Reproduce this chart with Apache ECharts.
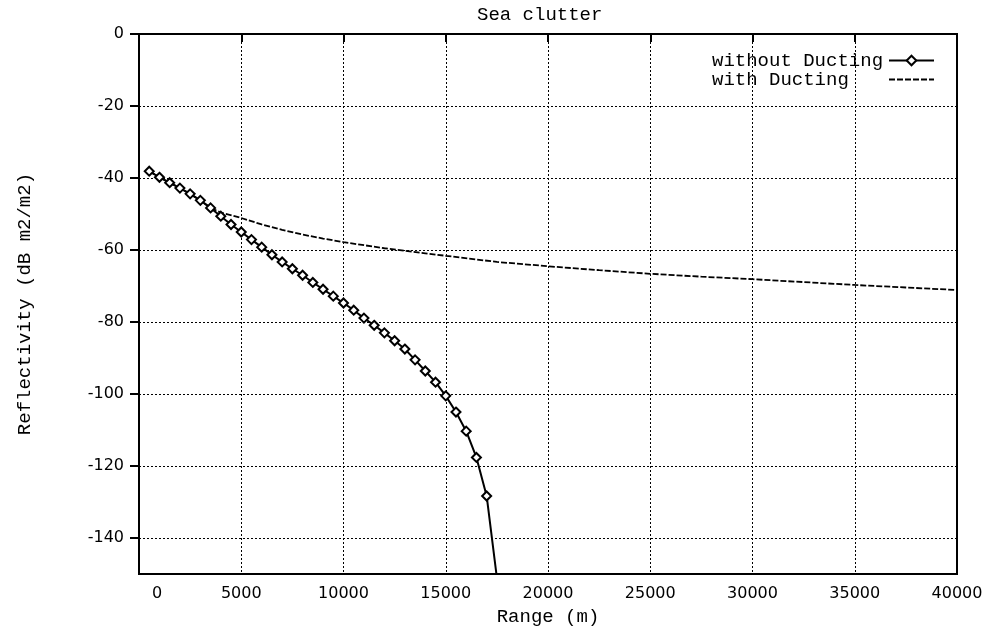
<!DOCTYPE html>
<html>
<head>
<meta charset="utf-8">
<script src="https://cdn.jsdelivr.net/npm/echarts@6/dist/echarts.min.js"></script>
<style>
html,body{margin:0;padding:0;background:#fff;}
#chart{width:987px;height:631px;}
</style>
</head>
<body>
<div id="chart"></div>
<script>
// ---- data ----
const titleText = 'Sea clutter';
const xName = 'Range (m)';
const yName = 'Reflectivity (dB m2/m2)';
const seriesNames = ['without Ducting', 'with Ducting'];

const rangeNoDuct = [500, 1000, 1500, 2000, 2500, 3000, 3500, 4000, 4500, 5000,
  5500, 6000, 6500, 7000, 7500, 8000, 8500, 9000, 9500, 10000,
  10500, 11000, 11500, 12000, 12500, 13000, 13500, 14000, 14500, 15000,
  15500, 16000, 16500, 17000, 17500];
const reflNoDuct = [-38.1, -39.8, -41.3, -42.8, -44.4, -46.2, -48.3, -50.6, -52.9, -55.0,
  -57.1, -59.2, -61.3, -63.3, -65.2, -67.0, -69.0, -70.9, -72.8, -74.7,
  -76.7, -78.9, -80.9, -83.0, -85.2, -87.5, -90.5, -93.6, -96.7, -100.5,
  -105.0, -110.3, -117.6, -128.3, -151.0];

const rangeDuct = [500, 1000, 1500, 2000, 2500, 3000, 3500, 4000, 5000, 6000,
  7000, 8000, 9000, 10000, 12000, 14000, 15000, 17500, 20000, 22500,
  25000, 27500, 30000, 32500, 35000, 37500, 40000];
const reflDuct = [-38.1, -39.8, -41.3, -42.8, -44.4, -46.2, -48.3, -49.6, -51.1, -52.9,
  -54.4, -55.7, -56.8, -57.8, -59.5, -60.9, -61.6, -63.3, -64.5, -65.6,
  -66.6, -67.4, -68.1, -68.9, -69.7, -70.4, -71.1];

const xMin = 0, xMax = 40000, xStep = 5000;
const yMin = -150, yMax = 0;
const yTicks = [-140, -120, -100, -80, -60, -40, -20, 0];

// ---- chart ----
const mono = 'Liberation Mono';
const sans = 'DejaVu Sans';

const noDuctData = rangeNoDuct.map((x, i) => {
  const v = [x, reflNoDuct[i]];
  return (reflNoDuct[i] < yMin) ? { value: v, symbol: 'none' } : v;
});
const ductData = rangeDuct.map((x, i) => [x, reflDuct[i]]);

const chart = echarts.init(document.getElementById('chart'), null, { renderer: 'canvas' });
chart.setOption({
  animation: false,
  backgroundColor: '#fff',
  title: {
    text: titleText,
    left: 477, top: 5, padding: 0,
    textStyle: { fontFamily: mono, fontSize: 19, fontWeight: 'normal', color: '#000' }
  },
  legend: {
    orient: 'vertical',
    right: 52, top: 51, padding: 0,
    align: 'right',
    itemWidth: 45, itemHeight: 12, itemGap: 0,
    data: [
      { name: seriesNames[0] },
      { name: seriesNames[1], itemStyle: { opacity: 0 } }
    ],
    formatter: name => '{t|' + name + '}',
    textStyle: {
      fontFamily: mono, fontSize: 19, color: '#000',
      rich: { t: { width: 172, align: 'left', fontFamily: mono, fontSize: 19, color: '#000', lineHeight: 16 } }
    }
  },
  grid: {
    left: 139, right: 30, top: 34, bottom: 48,
    show: true, borderColor: '#000', borderWidth: 2
  },
  xAxis: {
    type: 'value', min: xMin, max: xMax, interval: xStep,
    name: xName, nameLocation: 'middle', nameGap: 28,
    nameTextStyle: { fontFamily: mono, fontSize: 19, color: '#000' },
    axisLine: { show: true, lineStyle: { color: '#000', width: 2 } },
    axisTick: { show: true, length: 8, lineStyle: { color: '#000', width: 2 } },
    axisLabel: {
      margin: 12, fontFamily: sans, fontSize: 16, color: '#000',
      formatter: v => v === 0 ? '{z|0}' : String(v),
      rich: { z: { padding: [0, 0, 0, 36], fontFamily: sans, fontSize: 16, color: '#000' } }
    },
    splitLine: { show: true, lineStyle: { color: '#000', width: 1, type: [2, 2] } }
  },
  yAxis: {
    type: 'value', min: yMin, max: yMax,
    name: yName, nameLocation: 'middle', nameGap: 105, nameRotate: 90,
    nameTextStyle: { fontFamily: mono, fontSize: 19, color: '#000' },
    axisLine: { show: true, onZero: false, lineStyle: { color: '#000', width: 2 } },
    axisTick: { show: true, length: 9, customValues: yTicks, lineStyle: { color: '#000', width: 2 } },
    axisLabel: { margin: 15, fontFamily: sans, fontSize: 16, color: '#000', customValues: yTicks },
    splitLine: { show: true, lineStyle: { color: '#000', width: 1, type: [2, 2] } }
  },
  series: [
    {
      name: seriesNames[0], type: 'line', data: noDuctData, z: 3,
      symbol: 'emptyDiamond', symbolSize: 9, showSymbol: true, clip: true,
      lineStyle: { color: '#000', width: 2 },
      itemStyle: { color: '#000', borderColor: '#000', borderWidth: 3 }
    },
    {
      name: seriesNames[1], type: 'line', data: ductData, z: 2,
      symbol: 'none', clip: true,
      lineStyle: { color: '#000', width: 1.8, type: [6, 2] },
      itemStyle: { color: '#000' }
    }
  ]
});
</script>
</body>
</html>
